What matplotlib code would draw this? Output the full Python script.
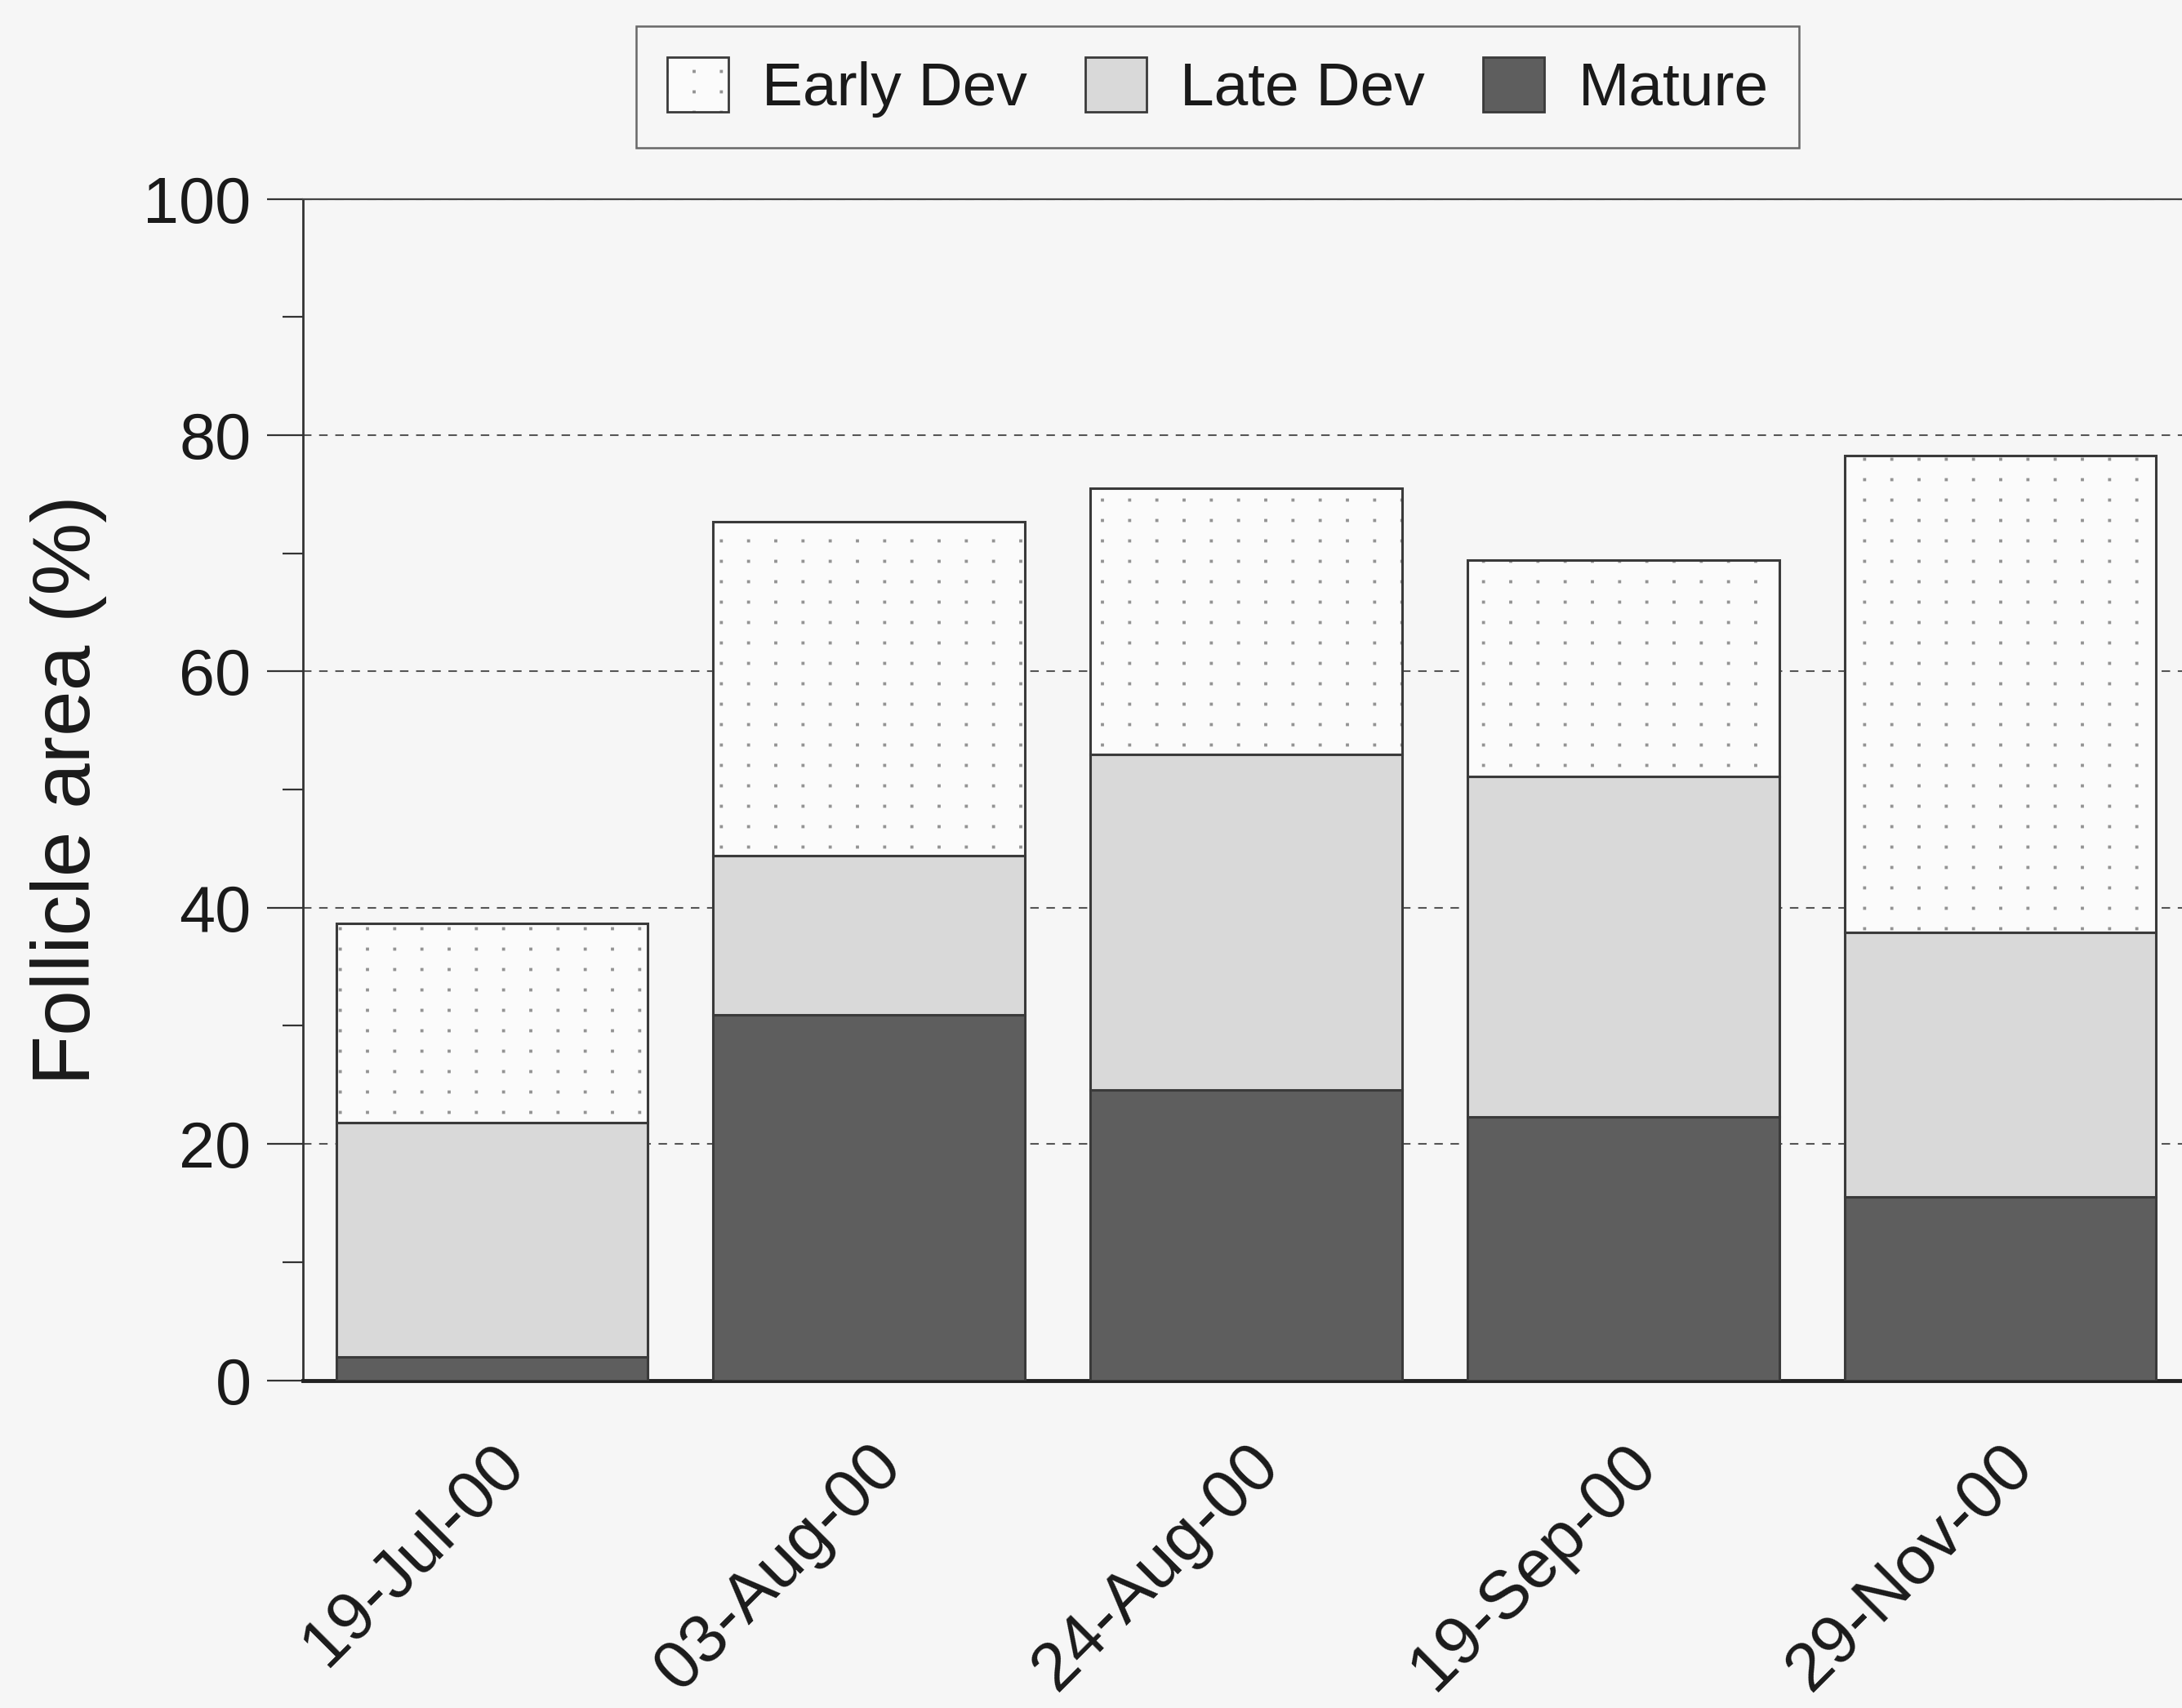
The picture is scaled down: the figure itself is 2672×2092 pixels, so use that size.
import numpy as np
import matplotlib
matplotlib.use("Agg")
import matplotlib.pyplot as plt
import matplotlib.hatch as mhatch
from matplotlib.path import Path
from matplotlib.legend_handler import HandlerTuple
import matplotlib.patches as mpatches

# ---- data -------------------------------------------------------------
dates = ["19-Jul-00", "03-Aug-00", "24-Aug-00", "19-Sep-00", "29-Nov-00"]
mature = [2.0, 30.9, 24.6, 22.3, 15.5]
late_dev = [19.8, 13.5, 28.4, 28.8, 22.4]
early_dev = [16.9, 28.3, 22.5, 18.3, 40.4]
series_names = ["Early Dev", "Late Dev", "Mature"]
y_ticks = [0, 20, 40, 60, 80, 100]


# ---- a square-grid dot fill for the "Early Dev" segments ---------------
class GridDots(mhatch.HatchPatternBase):
    """Regular (non-staggered) grid of small square dots."""

    def __init__(self, hatch, density):
        n = hatch.count('.')
        self.cols = 3 * n
        self.rows = 4 * n
        self.num_vertices = self.cols * self.rows * 5

    def set_vertices_and_codes(self, vertices, codes):
        s = 0.012
        k = 0
        for i in range(self.rows):
            for j in range(self.cols):
                cx = (j + 0.5) / self.cols
                cy = (i + 0.5) / self.rows
                vertices[k:k + 5] = [[cx - s, cy - s], [cx + s, cy - s],
                                     [cx + s, cy + s], [cx - s, cy + s],
                                     [cx - s, cy - s]]
                codes[k:k + 5] = [Path.MOVETO, Path.LINETO, Path.LINETO,
                                  Path.LINETO, Path.CLOSEPOLY]
                k += 5


mhatch._hatch_types = [GridDots if t is mhatch.SmallFilledCircles else t
                       for t in mhatch._hatch_types]

# ---- style --------------------------------------------------------------
plt.rcParams['font.family'] = ['Liberation Sans', 'DejaVu Sans']
plt.rcParams['hatch.linewidth'] = 1.0

bg = '#f6f6f6'
edge = '#3a3a3a'
c_mature = '#5e5e5e'
c_late = '#d9d9d9'
c_early = '#fbfbfb'
dot_col = '#939393'

fig = plt.figure(figsize=(26.72, 20.92), dpi=100, facecolor=bg)
ax = fig.add_axes([0.139, 0.1919, 1.0032 - 0.139, 0.8835 - 0.1919])
ax.set_facecolor(bg)

x = np.arange(len(dates))
w = 0.826
bottom_late = np.array(mature)
bottom_early = bottom_late + np.array(late_dev)

b_mat = ax.bar(x, mature, w, color=c_mature, edgecolor=edge, linewidth=2.2, zorder=3)
b_late = ax.bar(x, late_dev, w, bottom=bottom_late, color=c_late, edgecolor=edge,
                linewidth=2.2, zorder=3)
# dotted fill first, then an outline on top
b_early_fill = ax.bar(x, early_dev, w, bottom=bottom_early, color=c_early,
                      edgecolor=dot_col, linewidth=0, hatch='.', zorder=3)
b_early = ax.bar(x, early_dev, w, bottom=bottom_early, color='none',
                 edgecolor=edge, linewidth=2.2, zorder=4)

# ---- axes -----------------------------------------------------------------
ax.set_xlim(-0.5, 4.5)
ax.set_ylim(0, 100)
ax.set_yticks(y_ticks)
ax.set_yticks(np.arange(10, 100, 20), minor=True)
ax.yaxis.grid(True, which='major', linestyle=(0, (5, 4.5)), color='#555555',
              linewidth=1.5, zorder=1)
ax.set_axisbelow(True)

ax.tick_params(axis='y', which='major', length=32, width=1.6, color='#333333',
               labelsize=57, pad=14, labelcolor='#1a1a1a')
ax.tick_params(axis='y', which='minor', length=18, width=1.6, color='#333333')
ax.tick_params(axis='x', length=0, labelsize=60, pad=46, labelcolor='#1a1a1a')

ax.set_xticks(x)
ax.set_xticklabels(dates, rotation=45, ha='right', rotation_mode='anchor')

ax.spines['left'].set_linewidth(2.0)
ax.spines['left'].set_color('#333333')
ax.spines['top'].set_linewidth(1.6)
ax.spines['top'].set_color('#444444')
ax.spines['bottom'].set_linewidth(3.5)
ax.spines['bottom'].set_color('#222222')
ax.spines['right'].set_visible(False)

ax.set_ylabel("Follicle area (%)", fontsize=72, color='#1a1a1a')
ax.yaxis.set_label_coords(-0.104, 0.5)

# ---- legend -----------------------------------------------------------------
h_early = (mpatches.Patch(facecolor=c_early, edgecolor=dot_col, linewidth=0, hatch='.'),
           mpatches.Patch(facecolor='none', edgecolor=edge, linewidth=2.0))
h_late = mpatches.Patch(facecolor=c_late, edgecolor=edge, linewidth=2.0)
h_mat = mpatches.Patch(facecolor=c_mature, edgecolor=edge, linewidth=2.0)
leg = fig.legend([h_early, h_late, h_mat], series_names,
                 handler_map={tuple: HandlerTuple(ndivide=1, pad=0)},
                 loc='center', bbox_to_anchor=(0.5581, 0.949), ncol=3,
                 fontsize=54, frameon=True, fancybox=False, edgecolor='#444444',
                 facecolor=bg, handlelength=1.0, handleheight=1.0,
                 handletextpad=0.55, columnspacing=0.95, borderpad=0.5,
                 borderaxespad=0)
leg.get_frame().set_linewidth(1.8)
for t in leg.get_texts():
    t.set_color('#1a1a1a')

fig.savefig("out.png", dpi=100, facecolor=bg)
